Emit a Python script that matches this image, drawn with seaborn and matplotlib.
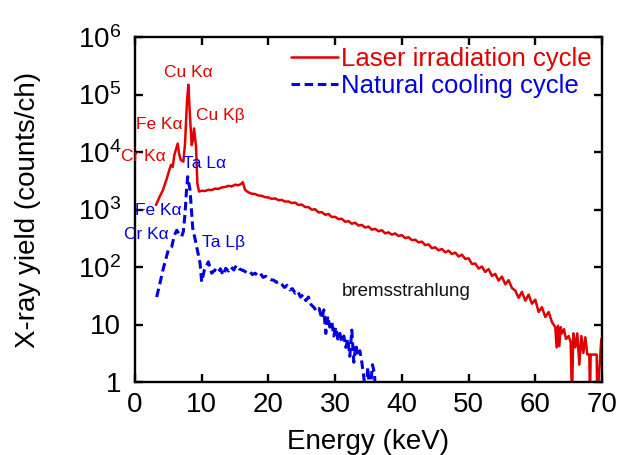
import numpy as np
import pandas as pd
import matplotlib
matplotlib.use("Agg")
import matplotlib.pyplot as plt
import seaborn as sns
from matplotlib.ticker import FixedLocator, FixedFormatter, NullLocator

# ---------------- data ----------------
laser_energy = [3.15, 3.6, 4.2, 4.8, 5.15, 5.4, 5.65, 5.9, 6.4, 6.6, 6.85, 7.25, 7.5, 7.8, 8.0, 8.25,
                8.5, 8.65, 8.85, 9.0, 9.15, 9.35, 9.6,
                10.0, 10.5, 11.0, 11.5, 12.0, 12.5, 13.0, 13.5, 14.0, 14.5, 15.0, 15.5, 15.9, 16.15,
                16.5, 17.0, 17.5, 18.0, 18.5, 19.0, 19.5, 20.0, 20.5, 21.0, 21.5, 22.0, 22.5, 23.0,
                23.5, 24.0, 24.5, 25.0, 25.5, 26.0, 26.5, 27.0, 27.5, 28.0, 28.5, 29.0, 29.5, 30.0,
                30.5, 31.0, 31.5, 32.0, 32.5, 33.0, 33.5, 34.0, 34.5, 35.0, 35.5, 36.0, 36.5, 37.0,
                37.5, 38.0, 38.5, 39.0, 39.5, 40.0, 40.5, 41.0, 41.5, 42.0, 42.5, 43.0, 43.5, 44.0,
                44.5, 45.0, 45.5, 46.0, 46.5, 47.0, 47.5, 48.0, 48.5, 49.0, 49.5, 50.0, 50.5, 51.0,
                51.5, 52.0, 52.5, 53.0, 53.5, 54.0, 54.5, 55.0, 55.5, 56.0, 56.5, 57.0, 57.5, 58.0,
                58.5, 59.0, 59.5, 60.0, 60.5, 61.0, 61.5, 62.0, 62.5, 63.0, 63.2, 63.4, 63.6, 63.8,
                64.0, 64.3, 64.6, 65.0, 65.3, 65.5, 65.7, 66.0, 66.3, 66.6, 66.9, 67.2, 67.5, 67.8,
                68.1, 68.2, 68.3, 68.7, 69.2, 69.3, 69.9]
laser_counts = [1200, 1580, 2190, 3550, 4900, 6000, 5500, 8900, 14000, 9500, 7250, 6800, 14000, 79000,
                148000, 40000, 13200, 15800, 25700, 18000, 12300, 2800, 2050,
                2120, 2100, 2200, 2180, 2310, 2280, 2420, 2460, 2580, 2520, 2700, 2640, 2780, 2990,
                2190, 1990, 1880, 1860, 1750, 1730, 1640, 1620, 1530, 1560, 1450, 1470, 1370, 1380,
                1290, 1320, 1200, 1220, 1100, 1100, 990, 1010, 890, 900, 810, 835, 740, 745,
                680, 690, 612, 628, 565, 590, 525, 540, 485, 505, 445, 462, 418, 436,
                385, 400, 365, 383, 346, 358, 318, 330, 293, 298, 268, 276, 240, 248,
                212, 220, 195, 206, 180, 192, 168, 178, 152, 164, 138, 142, 113, 115,
                94, 102, 82, 92, 70, 76, 58, 68, 50, 59, 43, 39, 29, 37,
                26, 33, 23, 27, 16.5, 20, 13.5, 16.5, 11, 9.0, 4.0, 9.5, 4.2, 9.0,
                7.0, 8.3, 5.6, 6.3, 5.0, 0.5, 7.0, 4.0, 7.0, 2.0, 6.3, 3.2, 6.0, 3.0,
                3.0, 0.5, 3.0, 3.0, 3.0, 0.5, 5.6]

cool_energy = [3.25, 3.8, 4.25, 5.0, 5.5, 5.9, 6.25, 6.6, 7.0, 7.25, 7.5, 7.7, 7.9, 8.25, 8.65,
               9.25, 9.75, 10.0, 10.4, 11.0, 11.5, 12.0, 12.4, 12.8, 13.2, 13.6, 14.0, 14.4, 14.8,
               15.2, 15.6, 16.0, 16.4, 16.8, 17.2, 17.6, 18.0, 18.4, 18.8, 19.2, 19.6, 20.0, 20.4,
               20.8, 21.2, 21.6, 22.0, 22.4, 22.8, 23.2, 23.6, 24.0, 24.4, 24.8, 25.2, 25.6, 26.0,
               26.4, 26.8, 27.2, 27.6, 28.0, 28.3, 28.6, 28.9, 29.2, 29.5, 29.8, 30.1, 30.4, 30.7,
               31.0, 31.3, 31.6, 31.9, 32.2, 32.5, 32.8, 33.1, 33.4, 33.7, 34.0, 34.3, 34.6, 34.9,
               35.2, 35.6, 35.9, 36.1]
cool_counts = [30, 56, 95, 200, 224, 355, 436, 380, 339, 417, 850, 2000, 3720, 2190, 480,
               224, 117, 55, 89, 123, 78, 89, 79, 93, 72, 95, 85, 100, 89,
               107, 93, 89, 85, 79, 83, 74, 78, 71, 77, 66, 69, 63, 60,
               59, 54, 56, 50, 44, 48, 40, 42, 35, 38, 30, 33, 26, 30,
               22, 20, 17, 19, 12.6, 18, 7, 14, 9, 11, 6.3, 9, 5.6, 7,
               5, 6.3, 4, 5.6, 2.8, 8, 2.2, 4.5, 2.8, 3.5, 2.2, 1.2, 0.6, 1.8,
               0.6, 2.0, 1.4, 0.5]

series_names = ["Laser irradiation cycle", "Natural cooling cycle"]
y_tick_values = [1, 10, 100, 1e3, 1e4, 1e5, 1e6]
y_tick_labels = ["1", "10", "10$^{2}$", "10$^{3}$", "10$^{4}$", "10$^{5}$", "10$^{6}$"]
x_tick_values = [0, 10, 20, 30, 40, 50, 60, 70]

red_peaks = ["Cu K\u03b1", "Fe K\u03b1", "Cr K\u03b1", "Cu K\u03b2"]
blue_peaks = ["Ta L\u03b1", "Fe K\u03b1", "Cr K\u03b1", "Ta L\u03b2"]

# ---------------- style ----------------
sns.set_style("ticks")
plt.rcParams["font.family"] = ["Liberation Sans", "DejaVu Sans"]
plt.rcParams["mathtext.fontset"] = "custom"
plt.rcParams["mathtext.rm"] = "Liberation Sans"
plt.rcParams["mathtext.it"] = "Liberation Sans:italic"
plt.rcParams["mathtext.bf"] = "Liberation Sans:bold"
plt.rcParams["text.color"] = "black"
plt.rcParams["axes.labelcolor"] = "black"

RED = "#e00000"
BLUE = "#0000e0"

fig = plt.figure(figsize=(6.3, 4.55), dpi=100)
ax = fig.add_axes([135 / 630, 1 - 382 / 455, (602 - 135) / 630, (382 - 37) / 455])

laser_df = pd.DataFrame({"energy": laser_energy, "counts": laser_counts})
cool_df = pd.DataFrame({"energy": cool_energy, "counts": cool_counts})

sns.lineplot(data=laser_df, x="energy", y="counts", ax=ax, color=RED, linewidth=1.8,
             estimator=None, sort=False, label=series_names[0])
sns.lineplot(data=cool_df, x="energy", y="counts", ax=ax, color=BLUE, linewidth=2.2,
             linestyle=(0, (2.8, 1.5)), estimator=None, sort=False, label=series_names[1])

ax.set_yscale("log")
ax.set_xlim(0, 70)
ax.set_ylim(1, 1e6)
ax.yaxis.set_major_locator(FixedLocator(y_tick_values))
ax.yaxis.set_major_formatter(FixedFormatter(y_tick_labels))
ax.yaxis.set_minor_locator(NullLocator())
ax.xaxis.set_major_locator(FixedLocator(x_tick_values))
ax.xaxis.set_minor_locator(NullLocator())

for s in ax.spines.values():
    s.set_linewidth(1.7)
    s.set_color("black")
    s.set_visible(True)
ax.tick_params(axis="both", which="major", direction="in", length=6, width=1.7,
               labelsize=20, top=True, right=True, colors="black")
ax.tick_params(axis="x", pad=7)
ax.tick_params(axis="y", pad=10)

ax.set_xlabel("Energy (keV)", fontsize=20, labelpad=8, color="black")
ax.set_ylabel("X-ray yield (counts/ch)", fontsize=20, labelpad=26, color="black")

leg = ax.legend(loc="upper right", bbox_to_anchor=(1.0, 1.0), frameon=False, fontsize=18.5,
                labelcolor="linecolor", handlelength=1.83, handletextpad=0.12,
                labelspacing=0.1, borderaxespad=0.0)

# peak labels
red_pos = [(7.95, 2.45e5), (3.6, 2.95e4), (1.2, 8.2e3), (12.74, 4.4e4)]
blue_pos = [(10.5, 6.2e3), (3.45, 980), (1.65, 361), (13.3, 271)]
for t, (xx, yy) in zip(red_peaks, red_pos):
    ax.text(xx, yy, t, color=RED, fontsize=12.5, ha="center", va="center")
for t, (xx, yy) in zip(blue_peaks, blue_pos):
    ax.text(xx, yy, t, color=BLUE, fontsize=12.5, ha="center", va="center")
ax.text(40.6, 38, "bremsstrahlung", color="#111111", fontsize=13.5, ha="center", va="center")

fig.savefig("out.png", dpi=100)
